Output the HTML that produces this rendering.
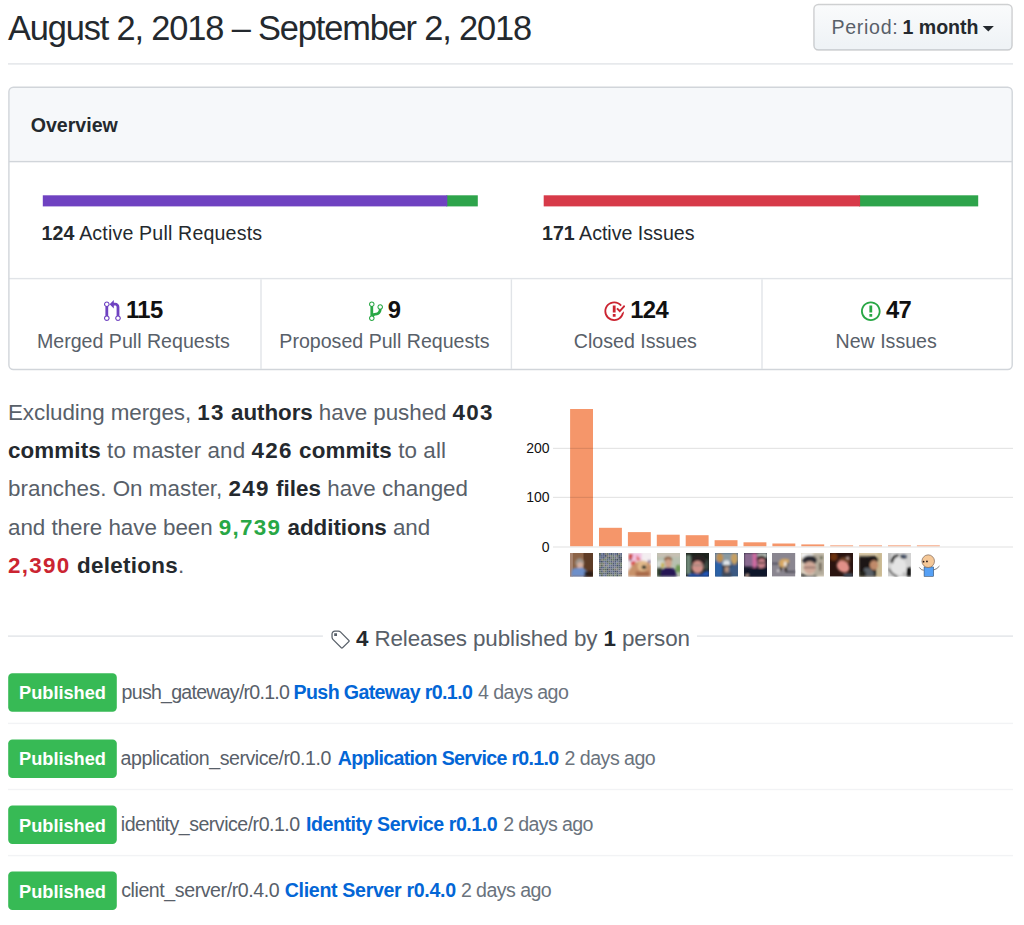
<!DOCTYPE html>
<html><head><meta charset="utf-8">
<style>
*{box-sizing:border-box;margin:0;padding:0}
html,body{width:1024px;height:925px;background:#fff;overflow:hidden}
body{font-family:"Liberation Sans",Arial,sans-serif;color:#24292e;position:relative}
.a{position:absolute;white-space:nowrap;line-height:1}
b{font-weight:700}
.g{color:#586069}
.stat{position:absolute;width:250.5px;display:flex;justify-content:center;align-items:flex-start;line-height:22.4px;height:24px}
.stat svg{margin-right:5.2px;margin-top:1.3px}
.num{font-size:23.8px;font-weight:700;color:#111;letter-spacing:-0.6px}
.lbl{position:absolute;width:250.5px;text-align:center;font-size:19.6px;color:#586069;line-height:1}
.sum{position:absolute;left:8px;font-size:22.4px;line-height:38.4px;color:#586069;white-space:nowrap}
.sum b{color:#24292e}
.sum .d{letter-spacing:1.3px}
.ylab{position:absolute;font-size:14px;color:#111;text-align:right;width:40px;left:509.5px;line-height:1}
.av{position:absolute;top:553.2px;width:23.2px;height:23.4px;display:block}
.rel{font-size:22.4px;color:#586069}
.rel b{color:#24292e}
.pub{position:absolute;left:8.2px;width:108.6px;height:38.4px;color:#fff;font-weight:700;font-size:18.2px;line-height:38.4px;text-align:center}
.rt{position:absolute;font-size:19.6px;white-space:nowrap;line-height:1}
.rp{color:#586069}
.rl{color:#0366d6;font-weight:700;text-decoration:none}
.rtm{color:#6a737d}
</style></head><body>
<svg style="position:absolute;left:0;top:0" width="1024" height="925" viewBox="0 0 1024 925"><defs><linearGradient id="bg" x1="0" y1="0" x2="0" y2="1"><stop offset="0" stop-color="#fafbfc"/><stop offset="0.9" stop-color="#eff3f6"/></linearGradient></defs><rect x="813.9" y="4.5" width="198.2" height="45.5" rx="4.5" fill="url(#bg)" stroke="rgba(27,31,35,.2)" stroke-width="1.4"/><path d="M982.7 25.9H993.9L988.3 31.5Z" fill="#24292e"/><rect x="8" y="63.2" width="1005" height="1.4" fill="#e1e4e8"/><rect x="8.9" y="87.3" width="1003.3" height="282.2" rx="4.5" fill="#fff"/><path d="M8.9 161.6V91.8A4.5 4.5 0 0 1 13.4 87.3H1007.7A4.5 4.5 0 0 1 1012.2 91.8V161.6Z" fill="#f6f8fa"/><rect x="8.9" y="160.9" width="1003.3" height="1.4" fill="#d1d5da"/><rect x="8.9" y="277.9" width="1003.3" height="1.4" fill="#e1e4e8"/><rect x="260.3" y="279.3" width="1.4" height="89.5" fill="#e1e4e8"/><rect x="510.7" y="279.3" width="1.4" height="89.5" fill="#e1e4e8"/><rect x="761.3" y="279.3" width="1.4" height="89.5" fill="#e1e4e8"/><rect x="8.9" y="87.3" width="1003.3" height="282.2" rx="4.5" fill="none" stroke="#d1d5da" stroke-width="1.4"/><rect x="446.3" y="195.3" width="31.5" height="11.1" fill="#2ea44b"/><rect x="42.8" y="195.3" width="404.5" height="11.1" fill="#6f42c1"/><rect x="859.1" y="195.3" width="119.1" height="11.1" fill="#2ea44b"/><rect x="543.7" y="195.3" width="316.4" height="11.1" fill="#d73a49"/><rect x="570.1" y="409" width="22.9" height="137.2" fill="#f5966a"/><rect x="599.0" y="527.8" width="22.9" height="18.4" fill="#f5966a"/><rect x="627.9" y="532.1" width="22.9" height="14.1" fill="#f5966a"/><rect x="656.8" y="534.7" width="22.9" height="11.5" fill="#f5966a"/><rect x="685.7" y="535.2" width="22.9" height="11.0" fill="#f5966a"/><rect x="714.6" y="540.2" width="22.9" height="6.0" fill="#f5966a"/><rect x="743.5" y="542.3" width="22.9" height="3.9" fill="#f5966a"/><rect x="772.4" y="543.5" width="22.9" height="2.7" fill="#f5966a"/><rect x="801.3" y="544.4" width="22.9" height="1.8" fill="#f5966a"/><rect x="830.2" y="545.4" width="22.9" height="0.8" fill="#f5966a"/><rect x="859.1" y="545.4" width="22.9" height="0.8" fill="#f5966a"/><rect x="888.0" y="545.4" width="22.9" height="0.8" fill="#f5966a"/><rect x="916.9" y="545.4" width="22.9" height="0.8" fill="#f5966a"/><rect x="553" y="447.8" width="460" height="1.2" fill="rgba(0,0,0,.1)"/><rect x="553" y="496.8" width="460" height="1.2" fill="rgba(0,0,0,.1)"/><rect x="553" y="546.4" width="460" height="1.2" fill="rgba(0,0,0,.1)"/><rect x="8" y="635.4" width="314.9" height="1.4" fill="#e1e4e8"/><rect x="697" y="635.4" width="316" height="1.4" fill="#e1e4e8"/><rect x="8.2" y="673.3" width="108.6" height="38.5" rx="4.2" fill="#37ba55"/><rect x="8" y="722.7" width="1005" height="1.4" fill="#f2f3f5"/><rect x="8.2" y="739.4" width="108.6" height="38.5" rx="4.2" fill="#37ba55"/><rect x="8" y="788.8" width="1005" height="1.4" fill="#f2f3f5"/><rect x="8.2" y="805.5" width="108.6" height="38.5" rx="4.2" fill="#37ba55"/><rect x="8" y="854.9" width="1005" height="1.4" fill="#f2f3f5"/><rect x="8.2" y="871.6" width="108.6" height="38.5" rx="4.2" fill="#37ba55"/></svg>
<div class="a" style="left:8px;top:11.08px;font-size:34.4px;letter-spacing:-1.15px">August 2, 2018 – September 2, 2018</div>
<div class="a g" style="left:831.4px;top:17.71px;font-size:19.6px;letter-spacing:0.7px">Period:</div>
<div class="a" style="left:902.4px;top:17.71px;font-size:19.6px;font-weight:700">1 month</div>
<div class="a" style="left:30.7px;top:115.71px;font-size:19.6px;font-weight:700">Overview</div>
<div class="a" style="left:41.4px;top:223.71px;font-size:19.6px;letter-spacing:0.17px"><b>124</b> Active Pull Requests</div>
<div class="a" style="left:542px;top:223.71px;font-size:19.6px"><b>171</b> Active Issues</div>
<div class="stat" style="left:8.1px;top:298.5px"><svg width="16.8" height="22.4" viewBox="0 0 12 16"><path fill="#6f42c1" fill-rule="evenodd" d="M11 11.28V5c-.03-.78-.34-1.47-.94-2.06C9.46 2.35 8.78 2.03 8 2H7V0L4 3l3 3V4h1c.27.02.48.11.69.31.21.2.3.42.31.69v6.28A1.993 1.993 0 0 0 10 15a1.993 1.993 0 0 0 1-3.72zm-1 2.92c-.66 0-1.2-.55-1.2-1.2 0-.65.55-1.2 1.2-1.2.65 0 1.2.55 1.2 1.2 0 .65-.55 1.2-1.2 1.2zM4 3c0-1.11-.89-2-2-2a1.993 1.993 0 0 0-1 3.72v6.56A1.993 1.993 0 0 0 2 15a1.993 1.993 0 0 0 1-3.72V4.72c.59-.34 1-.98 1-1.72zm-.8 10c0 .66-.55 1.2-1.2 1.2-.65 0-1.2-.55-1.2-1.2 0-.65.55-1.2 1.2-1.2.65 0 1.2.55 1.2 1.2zM2 4.2C1.34 4.2.8 3.65.8 3c0-.65.55-1.2 1.2-1.2.65 0 1.2.55 1.2 1.2 0 .65-.55 1.2-1.2 1.2z"/></svg><span class="num">115</span></div>
<div class="lbl" style="left:8.1px;top:331.71px">Merged Pull Requests</div>
<div class="stat" style="left:259.2px;top:298.5px"><svg width="14" height="22.4" viewBox="0 0 10 16"><path fill="#28a745" fill-rule="evenodd" d="M10 5c0-1.11-.89-2-2-2a1.993 1.993 0 0 0-1 3.72v.3c-.02.52-.23.98-.63 1.38-.4.4-.86.61-1.38.63-.83.02-1.48.16-2 .45V4.72a1.993 1.993 0 0 0-1-3.72C.88 1 0 1.890 0 3a2 2 0 0 0 1 1.72v6.56c-.59.35-1 .99-1 1.72 0 1.11.89 2 2 2 1.11 0 2-.89 2-2 0-.53-.2-1-.53-1.36.09-.06.48-.41.59-.47.25-.11.56-.17.94-.17 1.05-.05 1.95-.45 2.75-1.25S8.95 7.77 9 6.73h-.02C9.59 6.37 10 5.73 10 5zM2 1.8c.66 0 1.2.55 1.2 1.2 0 .65-.55 1.2-1.2 1.2C1.35 4.2.8 3.65.8 3c0-.65.55-1.2 1.2-1.2zm0 12.41c-.66 0-1.2-.55-1.2-1.2 0-.65.55-1.2 1.2-1.2.65 0 1.2.55 1.2 1.2 0 .65-.55 1.2-1.2 1.2zm6-8c-.66 0-1.2-.55-1.2-1.2 0-.65.55-1.2 1.2-1.2.65 0 1.2.55 1.2 1.2 0 .65-.55 1.2-1.2 1.2z"/></svg><span class="num">9</span></div>
<div class="lbl" style="left:259.2px;top:331.71px">Proposed Pull Requests</div>
<div class="stat" style="left:510.1px;top:298.5px"><svg width="22.4" height="22.4" viewBox="0 0 16 16"><path fill="#cb2431" fill-rule="evenodd" d="M7 10h2v2H7v-2zm2-6H7v5h2V4zm1.5 1.5l-1 1L12 9l4-4.5-1-1L12 7l-1.5-1.5zM8 13.7A5.71 5.71 0 0 1 2.3 8c0-3.14 2.56-5.7 5.7-5.7 1.83 0 3.45.88 4.5 2.2l.92-.92A6.947 6.947 0 0 0 8 1C4.14 1 1 4.14 1 8s3.14 7 7 7 7-3.14 7-7l-1.52 1.52c-.66 2.41-2.86 4.19-5.48 4.19v-.01z"/></svg><span class="num">124</span></div>
<div class="lbl" style="left:510.1px;top:331.71px">Closed Issues</div>
<div class="stat" style="left:760.9px;top:298.5px"><svg width="19.6" height="22.4" viewBox="0 0 14 16"><path fill="#28a745" fill-rule="evenodd" d="M7 2.3c3.14 0 5.7 2.56 5.7 5.7s-2.56 5.7-5.7 5.7A5.71 5.71 0 0 1 1.3 8c0-3.14 2.56-5.7 5.7-5.7zM7 1C3.14 1 0 4.14 0 8s3.14 7 7 7 7-3.14 7-7-3.14-7-7-7zm1 3H6v5h2V4zm0 6H6v2h2v-2z"/></svg><span class="num">47</span></div>
<div class="lbl" style="left:760.9px;top:331.71px">New Issues</div>
<div class="sum" style="top:393.74px;letter-spacing:-0.06px">Excluding merges, <b><span class="d">13</span> authors</b> have pushed <b class="d">403</b></div>
<div class="sum" style="top:432.09px;letter-spacing:0.095px"><b>commits</b> to master and <b><span class="d">426</span> commits</b> to all</div>
<div class="sum" style="top:470.44px;letter-spacing:0.014px">branches. On master, <b><span class="d">249</span> files</b> have changed</div>
<div class="sum" style="top:508.79px;letter-spacing:-0.04px">and there have been <b class="d" style="color:#28a745">9,739</b> <b>additions</b> and</div>
<div class="sum" style="top:547.14px;letter-spacing:0.3px"><b class="d" style="color:#cb2431">2,390</b> <b>deletions</b>.</div>
<div class="ylab" style="top:440.9px">200</div>
<div class="ylab" style="top:489.9px">100</div>
<div class="ylab" style="top:539.5px">0</div>
<svg width="0" height="0" style="position:absolute"><defs><filter id="bl" x="-10%" y="-10%" width="120%" height="120%"><feGaussianBlur stdDeviation="0.9"/></filter><filter id="bs" x="0" y="0" width="100%" height="100%"><feGaussianBlur stdDeviation="0.45"/></filter><pattern id="nz" width="3" height="3" patternUnits="userSpaceOnUse"><rect width="1" height="1" fill="#7c8494"/><rect x="1" y="1" width="1" height="1" fill="#5a6478"/><rect x="2" y="2" width="1" height="1" fill="#748070"/><rect x="2" y="0" width="1" height="1" fill="#606a80"/><rect x="0" y="2" width="1" height="1" fill="#80889a"/></pattern></defs></svg>
<svg class="av" style="left:570.1px" viewBox="0 0 24 24" preserveAspectRatio="none"><rect width="24" height="24" fill="#8c6448"/><rect x="14" width="10" height="24" fill="#5e3c26"/><rect width="3" height="24" fill="#a88470"/>
<g filter="url(#bl)"><ellipse cx="10" cy="10" rx="4.5" ry="4.5" fill="#9c948c"/><ellipse cx="10.5" cy="12.8" rx="3.2" ry="3.6" fill="#d6b0a0"/>
<path d="M1 24L2 17Q5 14.5 9 15.5L13 15Q17 17 19 22L19 24Z" fill="#6d8fca"/><rect x="15" y="19" width="9" height="5" fill="#2a1a14"/></g></svg>
<svg class="av" style="left:599.0px" viewBox="0 0 24 24" preserveAspectRatio="none"><g filter="url(#bs)"><rect x="0" y="0" width="2" height="2" fill="#596659"/><rect x="2" y="0" width="2" height="2" fill="#737d9b"/><rect x="4" y="0" width="2" height="2" fill="#505c7a"/><rect x="6" y="0" width="2" height="2" fill="#7b7671"/><rect x="8" y="0" width="2" height="2" fill="#677467"/><rect x="10" y="0" width="2" height="2" fill="#5e6a88"/><rect x="12" y="0" width="2" height="2" fill="#47536d"/><rect x="14" y="0" width="2" height="2" fill="#677380"/><rect x="16" y="0" width="2" height="2" fill="#616b89"/><rect x="18" y="0" width="2" height="2" fill="#48546e"/><rect x="20" y="0" width="2" height="2" fill="#85807b"/><rect x="22" y="0" width="2" height="2" fill="#606c8a"/><rect x="0" y="2" width="2" height="2" fill="#616d7a"/><rect x="2" y="2" width="2" height="2" fill="#606c8a"/><rect x="4" y="2" width="2" height="2" fill="#606a88"/><rect x="6" y="2" width="2" height="2" fill="#47536d"/><rect x="8" y="2" width="2" height="2" fill="#7c7772"/><rect x="10" y="2" width="2" height="2" fill="#7b798a"/><rect x="12" y="2" width="2" height="2" fill="#758470"/><rect x="14" y="2" width="2" height="2" fill="#6c7885"/><rect x="16" y="2" width="2" height="2" fill="#7f7d8e"/><rect x="18" y="2" width="2" height="2" fill="#677662"/><rect x="20" y="2" width="2" height="2" fill="#515d77"/><rect x="22" y="2" width="2" height="2" fill="#6b7784"/><rect x="0" y="4" width="2" height="2" fill="#6c7885"/><rect x="2" y="4" width="2" height="2" fill="#616d8b"/><rect x="4" y="4" width="2" height="2" fill="#55617b"/><rect x="6" y="4" width="2" height="2" fill="#85807b"/><rect x="8" y="4" width="2" height="2" fill="#637063"/><rect x="10" y="4" width="2" height="2" fill="#4c5665"/><rect x="12" y="4" width="2" height="2" fill="#757384"/><rect x="14" y="4" width="2" height="2" fill="#6b7a66"/><rect x="16" y="4" width="2" height="2" fill="#6c7885"/><rect x="18" y="4" width="2" height="2" fill="#7e7c8d"/><rect x="20" y="4" width="2" height="2" fill="#4b5564"/><rect x="22" y="4" width="2" height="2" fill="#4a5463"/><rect x="0" y="6" width="2" height="2" fill="#5d6976"/><rect x="2" y="6" width="2" height="2" fill="#85807b"/><rect x="4" y="6" width="2" height="2" fill="#6e7d69"/><rect x="6" y="6" width="2" height="2" fill="#73826e"/><rect x="8" y="6" width="2" height="2" fill="#606a88"/><rect x="10" y="6" width="2" height="2" fill="#6b7784"/><rect x="12" y="6" width="2" height="2" fill="#5f6c5f"/><rect x="14" y="6" width="2" height="2" fill="#687568"/><rect x="16" y="6" width="2" height="2" fill="#535d6c"/><rect x="18" y="6" width="2" height="2" fill="#434d5c"/><rect x="20" y="6" width="2" height="2" fill="#626e7b"/><rect x="22" y="6" width="2" height="2" fill="#434d5c"/><rect x="0" y="8" width="2" height="2" fill="#576381"/><rect x="2" y="8" width="2" height="2" fill="#4a5463"/><rect x="4" y="8" width="2" height="2" fill="#6a7492"/><rect x="6" y="8" width="2" height="2" fill="#5c6886"/><rect x="8" y="8" width="2" height="2" fill="#5a675a"/><rect x="10" y="8" width="2" height="2" fill="#697582"/><rect x="12" y="8" width="2" height="2" fill="#54607e"/><rect x="14" y="8" width="2" height="2" fill="#727081"/><rect x="16" y="8" width="2" height="2" fill="#525e78"/><rect x="18" y="8" width="2" height="2" fill="#6e7896"/><rect x="20" y="8" width="2" height="2" fill="#5f6b78"/><rect x="22" y="8" width="2" height="2" fill="#4d5766"/><rect x="0" y="10" width="2" height="2" fill="#807b76"/><rect x="2" y="10" width="2" height="2" fill="#71806c"/><rect x="4" y="10" width="2" height="2" fill="#807b76"/><rect x="6" y="10" width="2" height="2" fill="#6a7492"/><rect x="8" y="10" width="2" height="2" fill="#66708e"/><rect x="10" y="10" width="2" height="2" fill="#667561"/><rect x="12" y="10" width="2" height="2" fill="#687763"/><rect x="14" y="10" width="2" height="2" fill="#4d5973"/><rect x="16" y="10" width="2" height="2" fill="#5d6987"/><rect x="18" y="10" width="2" height="2" fill="#6c7b67"/><rect x="20" y="10" width="2" height="2" fill="#6e6c7d"/><rect x="22" y="10" width="2" height="2" fill="#71806c"/><rect x="0" y="12" width="2" height="2" fill="#837e79"/><rect x="2" y="12" width="2" height="2" fill="#596659"/><rect x="4" y="12" width="2" height="2" fill="#8b8681"/><rect x="6" y="12" width="2" height="2" fill="#5c6886"/><rect x="8" y="12" width="2" height="2" fill="#847f7a"/><rect x="10" y="12" width="2" height="2" fill="#6b7593"/><rect x="12" y="12" width="2" height="2" fill="#626c8a"/><rect x="14" y="12" width="2" height="2" fill="#555f6e"/><rect x="16" y="12" width="2" height="2" fill="#606a88"/><rect x="18" y="12" width="2" height="2" fill="#48546e"/><rect x="20" y="12" width="2" height="2" fill="#54607a"/><rect x="22" y="12" width="2" height="2" fill="#677662"/><rect x="0" y="14" width="2" height="2" fill="#687568"/><rect x="2" y="14" width="2" height="2" fill="#515d7b"/><rect x="4" y="14" width="2" height="2" fill="#606c8a"/><rect x="6" y="14" width="2" height="2" fill="#758470"/><rect x="8" y="14" width="2" height="2" fill="#65717e"/><rect x="10" y="14" width="2" height="2" fill="#505c7a"/><rect x="12" y="14" width="2" height="2" fill="#59657f"/><rect x="14" y="14" width="2" height="2" fill="#636d8b"/><rect x="16" y="14" width="2" height="2" fill="#797788"/><rect x="18" y="14" width="2" height="2" fill="#647164"/><rect x="20" y="14" width="2" height="2" fill="#5d6976"/><rect x="22" y="14" width="2" height="2" fill="#4f5968"/><rect x="0" y="16" width="2" height="2" fill="#505a69"/><rect x="2" y="16" width="2" height="2" fill="#706e7f"/><rect x="4" y="16" width="2" height="2" fill="#677662"/><rect x="6" y="16" width="2" height="2" fill="#5d6a5d"/><rect x="8" y="16" width="2" height="2" fill="#46505f"/><rect x="10" y="16" width="2" height="2" fill="#78736e"/><rect x="12" y="16" width="2" height="2" fill="#56627c"/><rect x="14" y="16" width="2" height="2" fill="#596659"/><rect x="16" y="16" width="2" height="2" fill="#78736e"/><rect x="18" y="16" width="2" height="2" fill="#817c77"/><rect x="20" y="16" width="2" height="2" fill="#626e7b"/><rect x="22" y="16" width="2" height="2" fill="#837e79"/><rect x="0" y="18" width="2" height="2" fill="#6f7e6a"/><rect x="2" y="18" width="2" height="2" fill="#57637d"/><rect x="4" y="18" width="2" height="2" fill="#88837e"/><rect x="6" y="18" width="2" height="2" fill="#697669"/><rect x="8" y="18" width="2" height="2" fill="#59657f"/><rect x="10" y="18" width="2" height="2" fill="#4d5973"/><rect x="12" y="18" width="2" height="2" fill="#66708e"/><rect x="14" y="18" width="2" height="2" fill="#56627c"/><rect x="16" y="18" width="2" height="2" fill="#4c5665"/><rect x="18" y="18" width="2" height="2" fill="#4e5a78"/><rect x="20" y="18" width="2" height="2" fill="#7d7b8c"/><rect x="22" y="18" width="2" height="2" fill="#747283"/><rect x="0" y="20" width="2" height="2" fill="#637063"/><rect x="2" y="20" width="2" height="2" fill="#606d60"/><rect x="4" y="20" width="2" height="2" fill="#616d7a"/><rect x="6" y="20" width="2" height="2" fill="#616d7a"/><rect x="8" y="20" width="2" height="2" fill="#475160"/><rect x="10" y="20" width="2" height="2" fill="#5b685b"/><rect x="12" y="20" width="2" height="2" fill="#545e6d"/><rect x="14" y="20" width="2" height="2" fill="#5d6987"/><rect x="16" y="20" width="2" height="2" fill="#697669"/><rect x="18" y="20" width="2" height="2" fill="#5d6976"/><rect x="20" y="20" width="2" height="2" fill="#656f8d"/><rect x="22" y="20" width="2" height="2" fill="#46505f"/><rect x="0" y="22" width="2" height="2" fill="#737d9b"/><rect x="2" y="22" width="2" height="2" fill="#576457"/><rect x="4" y="22" width="2" height="2" fill="#6d7795"/><rect x="6" y="22" width="2" height="2" fill="#616b89"/><rect x="8" y="22" width="2" height="2" fill="#697864"/><rect x="10" y="22" width="2" height="2" fill="#64735f"/><rect x="12" y="22" width="2" height="2" fill="#768571"/><rect x="14" y="22" width="2" height="2" fill="#555f6e"/><rect x="16" y="22" width="2" height="2" fill="#778672"/><rect x="18" y="22" width="2" height="2" fill="#4c5665"/><rect x="20" y="22" width="2" height="2" fill="#758470"/><rect x="22" y="22" width="2" height="2" fill="#7c7772"/></g></svg>
<svg class="av" style="left:627.9px" viewBox="0 0 24 24" preserveAspectRatio="none"><rect width="24" height="24" fill="#f3eef0"/><g filter="url(#bl)"><rect x="4" y="0" width="10" height="8" fill="#f2c2e2"/>
<path d="M1 1H5L4 7L1 8Z" fill="#c83a3a"/><path d="M9 2L13 7L9 8Z" fill="#e05a50"/><path d="M3 9L8 8L7 12L4 14Z" fill="#d84848"/>
<circle cx="2.5" cy="7.5" r="1" fill="#6070a0"/><circle cx="22" cy="9" r="1.5" fill="#7a6890"/>
<path d="M0 24L0 19Q6 9 14 8Q22 9 24 13L24 24Z" fill="#c8926a"/><ellipse cx="15" cy="13.5" rx="5" ry="5.5" fill="#e2ba8a"/>
<ellipse cx="16.6" cy="14.6" rx="2.4" ry="2.1" fill="#1a2a28"/><rect x="8" y="19" width="14" height="5" fill="#a86a4a"/></g></svg>
<svg class="av" style="left:656.8px" viewBox="0 0 24 24" preserveAspectRatio="none"><rect width="24" height="24" fill="#b8c0b0"/><g filter="url(#bl)"><rect width="24" height="4" fill="#c8c0b4"/><rect x="0" y="8" width="7" height="8" fill="#d4dcd8"/>
<rect x="4" y="10" width="3" height="5" fill="#c8b040"/><rect x="0" y="15" width="5" height="9" fill="#2a3a2a"/><ellipse cx="22" cy="16" rx="2.5" ry="4" fill="#6a9a50"/>
<ellipse cx="11.5" cy="6.5" rx="4" ry="3" fill="#8a6040"/><ellipse cx="11.8" cy="10.5" rx="3.4" ry="4.3" fill="#d0a088"/>
<path d="M3.5 24L4.5 17Q11.5 13 19 17L20.5 24Z" fill="#261654"/></g></svg>
<svg class="av" style="left:685.7px" viewBox="0 0 24 24" preserveAspectRatio="none"><rect width="24" height="24" fill="#1e241e"/><g filter="url(#bl)"><rect x="0" y="2" width="5" height="20" fill="#708878"/><rect x="19" y="7" width="4" height="10" fill="#405048"/>
<ellipse cx="13" cy="8" rx="8" ry="6" fill="#2a2420"/><ellipse cx="12" cy="14.5" rx="6" ry="6.5" fill="#d09088"/>
<rect x="6" y="12" width="12" height="1.2" fill="#8a8078"/><path d="M1 24Q4 20 8 21L16 22Q19 18 24 18.5L24 24Z" fill="#2454b8"/></g></svg>
<svg class="av" style="left:714.6px" viewBox="0 0 24 24" preserveAspectRatio="none"><rect width="24" height="24" fill="#3a5a80"/><g filter="url(#bl)"><rect width="24" height="8" fill="#8a9aa0"/><rect x="0" y="8" width="7" height="16" fill="#2a62a8"/>
<ellipse cx="5" cy="5" rx="3.5" ry="5" fill="#c09050"/><ellipse cx="20" cy="6" rx="3.5" ry="6" fill="#c8a060"/>
<rect x="16" y="12" width="8" height="10" fill="#3c5a84"/><ellipse cx="12" cy="10.5" rx="4" ry="3" fill="#e0e4e8"/><rect x="7" y="12.5" width="10" height="1.6" fill="#3a3028"/>
<rect x="9.5" y="14" width="5" height="6" fill="#b09080"/><rect x="8" y="14" width="1.8" height="9" fill="#2a2420"/><rect x="7" y="20" width="10" height="4" fill="#404858"/></g></svg>
<svg class="av" style="left:743.5px" viewBox="0 0 24 24" preserveAspectRatio="none"><rect width="24" height="24" fill="#151828"/><g filter="url(#bl)"><rect x="0" y="0" width="14" height="14" fill="#8a6a90"/><rect x="9" y="0" width="4" height="15" fill="#d06aa0"/>
<rect x="14" y="0" width="10" height="5" fill="#b8c0b8"/><ellipse cx="18" cy="6.5" rx="5" ry="4" fill="#3a2a28"/><ellipse cx="18.3" cy="11" rx="4.3" ry="5.3" fill="#c8808a"/>
<rect x="14" y="9.5" width="8" height="1.3" fill="#302020"/><path d="M3 24L5 17Q12 14 16 16L24 14L24 24Z" fill="#10162a"/><ellipse cx="3" cy="23" rx="2" ry="1.5" fill="#c0a090"/></g></svg>
<svg class="av" style="left:772.4px" viewBox="0 0 24 24" preserveAspectRatio="none"><rect width="24" height="24" fill="#8a8690"/><g filter="url(#bl)"><rect x="0" y="10.2" width="7" height="1.3" fill="#3a3848"/><rect x="14" y="18.6" width="10" height="1.3" fill="#3a3848"/>
<path d="M7.5 9Q9 5.5 13 5.8L17.5 6.5Q18.5 9 16.5 11L16 13.5L13 14.5L9 15L7.6 13Z" fill="#d8a862"/><ellipse cx="13.8" cy="11.2" rx="1.4" ry="2.8" fill="#f2ece6"/>
<path d="M8.6 13.5L7.4 19L9.2 19L10.6 14.5Z" fill="#3a3020"/><path d="M13.2 14L13.6 19.5L15.4 19.5L15 14Z" fill="#2a2418"/><path d="M15.5 10L17 10L16.5 14L15.3 14Z" fill="#4a4030"/><circle cx="6.4" cy="18.2" r="1.3" fill="#ece8ec"/></g></svg>
<svg class="av" style="left:801.3px" viewBox="0 0 24 24" preserveAspectRatio="none"><rect width="24" height="24" fill="#d8d0c0"/><g filter="url(#bl)"><rect x="0" y="0" width="12" height="5" fill="#f2f2f2"/><rect x="13" y="1" width="11" height="22" fill="#b4ac9c"/>
<rect x="19" y="10" width="2" height="8" fill="#5a5040"/><circle cx="21" cy="5" r="1.3" fill="#2a4020"/>
<ellipse cx="9" cy="7.5" rx="7.5" ry="5" fill="#2a2a30"/><ellipse cx="9" cy="15" rx="6.5" ry="6.5" fill="#d0a898"/>
<rect x="3" y="14.3" width="12" height="1.2" fill="#6a5050"/><path d="M0 24L0 21Q3 22 6 23L12 23Q15 22 17 24Z" fill="#202428"/></g></svg>
<svg class="av" style="left:830.2px" viewBox="0 0 24 24" preserveAspectRatio="none"><rect width="24" height="24" fill="#2a1410"/><g filter="url(#bl)"><ellipse cx="4" cy="4" rx="4" ry="4" fill="#6a3010"/>
<ellipse cx="15" cy="8" rx="6" ry="4" fill="#6a4028"/><ellipse cx="13.5" cy="14" rx="7" ry="5.5" transform="rotate(35 13.5 14)" fill="#e09088"/>
<circle cx="18.5" cy="5" r="1.6" fill="#c0a8a0"/><rect x="14" y="21" width="10" height="3" fill="#405060"/></g></svg>
<svg class="av" style="left:859.1px" viewBox="0 0 24 24" preserveAspectRatio="none"><rect width="24" height="24" fill="#d8c8a8"/><g filter="url(#bl)"><rect x="0" y="3.5" width="18" height="20.5" fill="#1a1812"/><rect x="19" y="0" width="5" height="24" fill="#c8b890"/>
<ellipse cx="14" cy="7" rx="6" ry="4" fill="#1a1814"/><ellipse cx="15.5" cy="12.5" rx="4.3" ry="5" fill="#c08a6a"/>
<path d="M5 16Q10 14 13 17L16 21L14 24L6 24Z" fill="#5a6068"/><rect x="0" y="19" width="7" height="5" fill="#20201e"/></g></svg>
<svg class="av" style="left:888.0px" viewBox="0 0 24 24" preserveAspectRatio="none"><rect width="24" height="24" fill="#d2d2d2"/><g filter="url(#bl)"><ellipse cx="11" cy="14" rx="8" ry="9" fill="#e4e4e4"/><rect x="0" y="0" width="3" height="10" fill="#b8b8b8"/>
<path d="M2.5 9Q4 2 11 1.5L10.5 3.5Q6 4.5 5 11Z" fill="#1c1c1c"/><ellipse cx="16" cy="3.8" rx="3.2" ry="2" fill="#1e2430"/><ellipse cx="16.3" cy="3.6" rx="1.2" ry="0.9" fill="#6078a0"/>
<rect x="19.5" y="15" width="4.5" height="9" fill="#101010"/><path d="M1 16Q4 22 10 24" stroke="#4a4a4a" stroke-width="1.6" fill="none"/><path d="M16 20L17 23" stroke="#808080" stroke-width="1"/></g></svg>
<svg class="av" style="left:916.9px" viewBox="0 0 24 24" preserveAspectRatio="none"><path d="M2.7 15.2Q4.5 18 6.6 17.7" stroke="#6a6666" stroke-width="0.9" fill="none" stroke-linecap="round"/><path d="M17.6 17.3Q20.8 16.5 23 13.7" stroke="#6a6666" stroke-width="0.9" fill="none" stroke-linecap="round"/>
<rect x="7.3" y="14.3" width="10" height="9.7" fill="#55a0f5" stroke="#2a3848" stroke-width="0.5"/>
<circle cx="11.6" cy="8.4" r="6.5" fill="#f5c898" stroke="#7a6458" stroke-width="0.7"/><circle cx="6.8" cy="8.9" r="0.9" fill="#201010"/><circle cx="10.3" cy="8.6" r="0.9" fill="#201010"/></svg>
<svg style="position:absolute;left:330.1px;top:628.6px" width="19.6" height="22.4" viewBox="0 0 14 16"><path fill="#586069" fill-rule="evenodd" d="M7.73 1.73C7.26 1.26 6.62 1 5.96 1H3.5C2.13 1 1 2.13 1 3.5v2.47c0 .66.27 1.3.73 1.77l6.06 6.06c.39.39 1.02.39 1.41 0l4.59-4.59a.996.996 0 0 0 0-1.41L7.73 1.73zM2.38 7.09c-.31-.3-.47-.7-.47-1.13V3.5c0-.88.72-1.59 1.59-1.59h2.47c.42 0 .83.16 1.13.47l6.14 6.13-4.73 4.73-6.13-6.15zM3.01 3h2v2H3V3h.01z"/></svg>
<div class="a rel" style="left:356px;top:628.04px;letter-spacing:-0.11px"><b>4</b> Releases published by <b>1</b> person</div>
<div class="pub" style="top:673.3px;padding-top:1px">Published</div>
<div class="rt" style="top:682.51px;left:0"><span class="rp a" style="left:121.6px;letter-spacing:-0.756px">push_gateway/r0.1.0</span> <a class="rl a" style="left:293.6px;letter-spacing:-0.63px">Push Gateway r0.1.0</a> <span class="rtm a" style="left:478.1px;letter-spacing:-0.57px">4 days ago</span></div>
<div class="pub" style="top:739.4px;padding-top:1px">Published</div>
<div class="rt" style="top:748.61px;left:0"><span class="rp a" style="left:120.6px;letter-spacing:-0.46px">application_service/r0.1.0</span> <a class="rl a" style="left:337.7px;letter-spacing:-0.68px">Application Service r0.1.0</a> <span class="rtm a" style="left:564.6px;letter-spacing:-0.53px">2 days ago</span></div>
<div class="pub" style="top:805.5px;padding-top:1px">Published</div>
<div class="rt" style="top:814.71px;left:0"><span class="rp a" style="left:120.8px;letter-spacing:-0.51px">identity_service/r0.1.0</span> <a class="rl a" style="left:305.9px;letter-spacing:-0.44px">Identity Service r0.1.0</a> <span class="rtm a" style="left:503.2px;letter-spacing:-0.63px">2 days ago</span></div>
<div class="pub" style="top:871.6px;padding-top:1px">Published</div>
<div class="rt" style="top:880.81px;left:0"><span class="rp a" style="left:121.2px;letter-spacing:-0.43px">client_server/r0.4.0</span> <a class="rl a" style="left:284.8px;letter-spacing:-0.33px">Client Server r0.4.0</a> <span class="rtm a" style="left:460.9px;letter-spacing:-0.56px">2 days ago</span></div>
</body></html>
